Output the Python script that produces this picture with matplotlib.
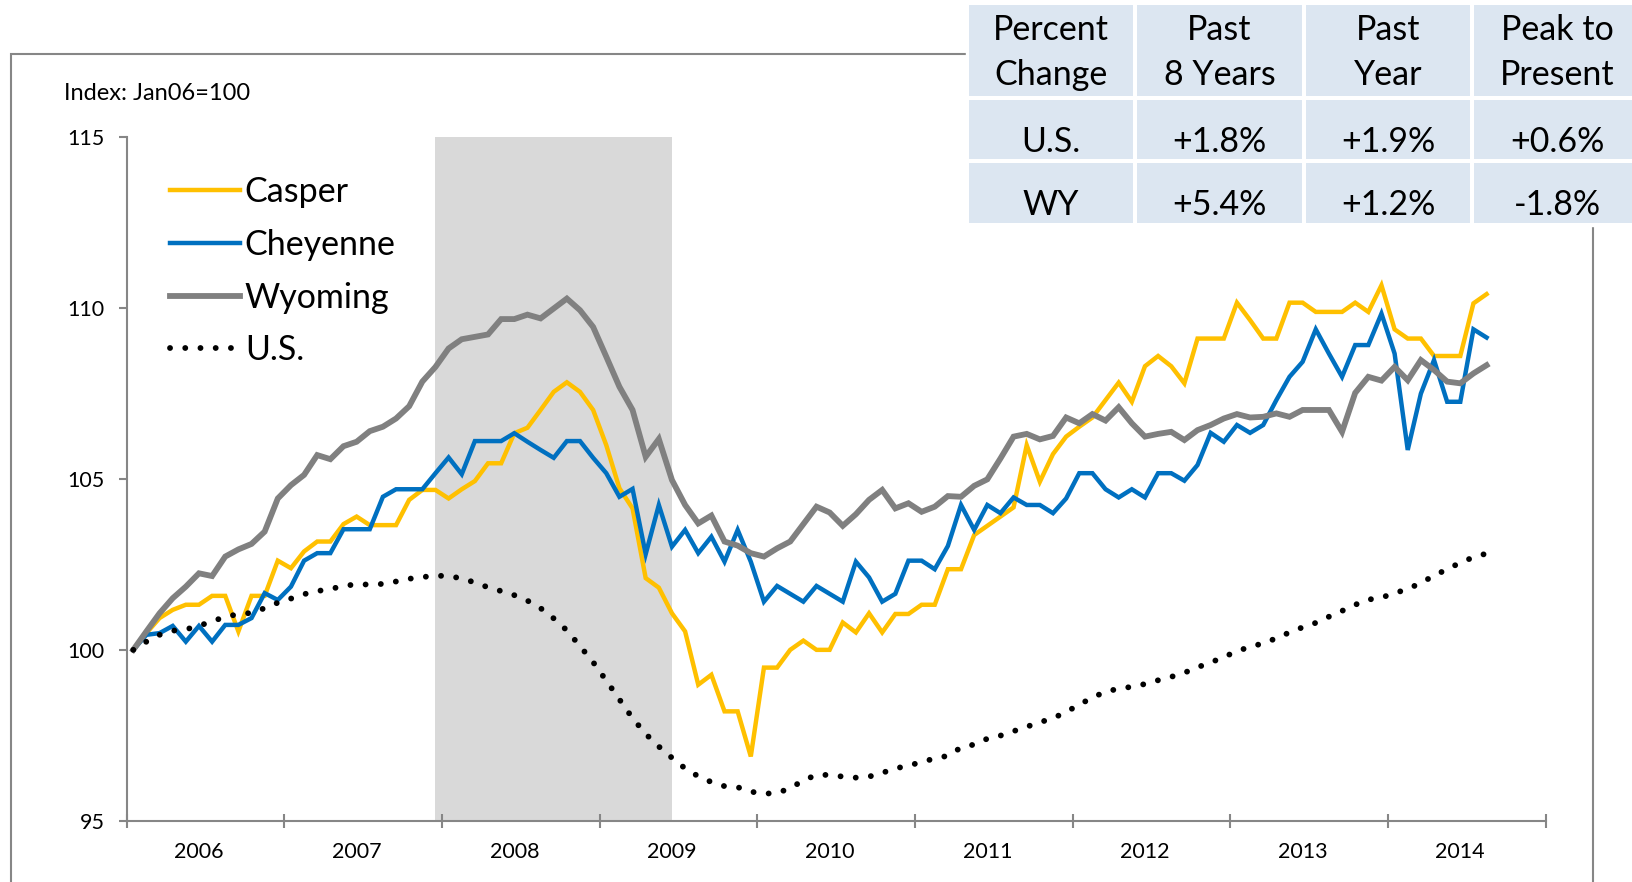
import numpy as np
import matplotlib
matplotlib.use("Agg")
import matplotlib.pyplot as plt
from matplotlib.patches import Rectangle

plt.rcParams['font.family'] = ['Lato', 'DejaVu Sans']

# monthly index values, Jan 2006 .. Aug 2014 (Jan06 = 100)
casper = [100.00, 100.49, 100.93, 101.17, 101.32, 101.32, 101.58, 101.58, 100.54, 101.58, 101.58, 102.61,
          102.39, 102.88, 103.17, 103.17, 103.68, 103.90, 103.65, 103.65, 103.65, 104.39, 104.68, 104.68,
          104.43, 104.70, 104.94, 105.46, 105.46, 106.34, 106.50, 107.02, 107.55, 107.83, 107.55, 107.02,
          105.99, 104.73, 104.14, 102.10, 101.82, 101.07, 100.54, 98.98, 99.27, 98.20, 98.20, 96.88,
          99.48, 99.48, 100.00, 100.27, 100.00, 100.00, 100.80, 100.51, 101.07, 100.51, 101.05, 101.05,
          101.32, 101.32, 102.36, 102.36, 103.36, 103.63, 103.90, 104.17, 105.99, 104.92, 105.73, 106.24,
          106.53, 106.80, 107.31, 107.82, 107.26, 108.30, 108.60, 108.30, 107.80, 109.11, 109.11, 109.11,
          110.16, 109.65, 109.11, 109.11, 110.16, 110.16, 109.89, 109.89, 109.89, 110.16, 109.89, 110.67,
          109.38, 109.11, 109.11, 108.60, 108.60, 108.60, 110.14, 110.41]

cheyenne = [100.00, 100.44, 100.49, 100.70, 100.24, 100.70, 100.24, 100.73, 100.73, 100.93, 101.66, 101.46,
            101.85, 102.61, 102.83, 102.83, 103.53, 103.53, 103.53, 104.48, 104.70, 104.70, 104.70, 105.17,
            105.63, 105.14, 106.11, 106.11, 106.11, 106.34, 106.09, 105.85, 105.62, 106.11, 106.11, 105.62,
            105.17, 104.48, 104.71, 102.80, 104.24, 103.02, 103.51, 102.83, 103.31, 102.58, 103.51, 102.58,
            101.41, 101.87, 101.64, 101.41, 101.87, 101.64, 101.41, 102.58, 102.12, 101.41, 101.64, 102.61,
            102.61, 102.36, 103.04, 104.24, 103.51, 104.24, 104.00, 104.46, 104.24, 104.24, 104.00, 104.43,
            105.17, 105.17, 104.70, 104.46, 104.70, 104.46, 105.17, 105.17, 104.95, 105.41, 106.35, 106.09,
            106.58, 106.35, 106.58, 107.31, 107.99, 108.43, 109.38, 108.67, 107.99, 108.92, 108.92, 109.84,
            108.67, 105.85, 107.50, 108.48, 107.26, 107.26, 109.38, 109.14]

wyoming = [100.00, 100.54, 101.07, 101.51, 101.85, 102.24, 102.16, 102.73, 102.94, 103.10, 103.46, 104.43,
           104.82, 105.12, 105.70, 105.58, 105.96, 106.09, 106.40, 106.53, 106.77, 107.13, 107.85, 108.28,
           108.82, 109.09, 109.16, 109.23, 109.68, 109.68, 109.81, 109.70, 109.99, 110.28, 109.94, 109.45,
           108.58, 107.70, 107.02, 105.65, 106.17, 104.97, 104.24, 103.70, 103.93, 103.17, 103.05, 102.83,
           102.73, 102.97, 103.17, 103.68, 104.19, 104.02, 103.63, 103.97, 104.39, 104.68, 104.14, 104.29,
           104.04, 104.19, 104.50, 104.48, 104.80, 104.99, 105.60, 106.24, 106.32, 106.16, 106.26, 106.80,
           106.63, 106.90, 106.71, 107.10, 106.63, 106.24, 106.32, 106.38, 106.14, 106.43, 106.58, 106.77,
           106.90, 106.80, 106.82, 106.92, 106.82, 107.02, 107.02, 107.02, 106.38, 107.52, 107.99, 107.88,
           108.28, 107.89, 108.48, 108.19, 107.85, 107.80, 108.09, 108.33]

us = [100.00, 100.24, 100.44, 100.56, 100.60, 100.70, 100.84, 100.96, 101.05, 101.08, 101.22, 101.38,
      101.50, 101.63, 101.72, 101.78, 101.87, 101.92, 101.91, 101.93, 102.00, 102.08, 102.13, 102.17,
      102.16, 102.09, 101.97, 101.83, 101.72, 101.60, 101.44, 101.22, 100.92, 100.57, 100.11, 99.64,
      99.10, 98.55, 98.00, 97.54, 97.17, 96.84, 96.53, 96.30, 96.13, 96.01, 95.98, 95.85,
      95.79, 95.81, 95.95, 96.18, 96.34, 96.34, 96.29, 96.26, 96.29, 96.40, 96.53, 96.61,
      96.72, 96.82, 96.90, 97.14, 97.23, 97.40, 97.49, 97.62, 97.75, 97.88, 98.00, 98.18,
      98.40, 98.60, 98.78, 98.86, 98.92, 99.00, 99.11, 99.21, 99.33, 99.49, 99.63, 99.79,
      99.96, 100.09, 100.19, 100.34, 100.51, 100.66, 100.79, 100.97, 101.14, 101.32, 101.47, 101.53,
      101.66, 101.78, 101.96, 102.17, 102.36, 102.55, 102.71, 102.82]

years = ['2006', '2007', '2008', '2009', '2010', '2011', '2012', '2013', '2014']
recession = (23, 41)   # Dec 2007 .. Jun 2009 (month index)

table_header = ['Percent\nChange', 'Past\n8 Years', 'Past\nYear', 'Peak to\nPresent']
table_rows = [['U.S.', '+1.8%', '+1.9%', '+0.6%'],
              ['WY', '+5.4%', '+1.2%', '-1.8%']]

W, H = 1633, 882
fig = plt.figure(figsize=(W / 100, H / 100), dpi=100)

def fx(x):
    return x / W

def fy(y):
    return 1 - y / H

grey = '#868686'

# outer chart border
fig.patches.append(Rectangle((fx(10.5), fy(900)), fx(1593.5) - fx(10.5), fy(54) - fy(900),
                             transform=fig.transFigure, fill=False, edgecolor=grey, lw=1.5, zorder=0))

ax = fig.add_axes([fx(126.7), fy(820.7), fx(1545.7) - fx(126.7), fy(137.3) - fy(820.7)])
x = np.arange(len(casper))

ax.axvspan(recession[0], recession[1], color='#D9D9D9', lw=0, zorder=0)
ax.plot(x, casper, color='#FFC000', lw=3.2, label='Casper', solid_joinstyle='miter')
ax.plot(x, cheyenne, color='#0070C0', lw=3.2, label='Cheyenne', solid_joinstyle='miter')
ax.plot(x, wyoming, color='#808080', lw=4.2, label='Wyoming', solid_joinstyle='miter')
ax.plot(x, us, color='black', lw=4.2, linestyle=(0, (0.01, 2.6)), dash_capstyle='round', label='U.S.')

ax.set_xlim(-0.5, 107.5)
ax.set_ylim(95, 115)
ax.set_yticks([95, 100, 105, 110, 115])
ax.set_xticks(np.arange(-0.5, 108, 12))
ax.set_xticklabels([])
ax.set_xticks(np.arange(5.0, 108, 12), minor=True)
ax.set_xticklabels(years, minor=True)
ax.tick_params(axis='x', which='major', direction='inout', length=10, width=1.5, color=grey)
ax.tick_params(axis='x', which='minor', length=0, pad=15, labelsize=15.5)
ax.tick_params(axis='y', direction='out', length=6, width=1.5, color=grey, pad=10, labelsize=15.5)
for s in ['top', 'right']:
    ax.spines[s].set_visible(False)
for s in ['left', 'bottom']:
    ax.spines[s].set_color(grey)
    ax.spines[s].set_linewidth(1.5)

fig.text(fx(64), fy(93.7), 'Index: Jan06=100', fontsize=17, va='center', ha='left')

ax.legend(loc='upper left', bbox_to_anchor=(fx(170), fy(176)), bbox_transform=fig.transFigure,
          frameon=False, fontsize=24.5, handlelength=2.05, handletextpad=0.15, labelspacing=0.61,
          borderpad=0, borderaxespad=0)

# table in the top right corner
col_edges = [969, 1133, 1137, 1302, 1306, 1470, 1474, 1640]
row_edges = [5, 96, 100, 159, 163, 223]
text_shift = [2, 12, 12]
fig.patches.append(Rectangle((fx(966), fy(226)), fx(1640) - fx(966), fy(2) - fy(226),
                             transform=fig.transFigure, color='white', zorder=2))
cells = [table_header] + table_rows
for r in range(3):
    y0, y1 = row_edges[2 * r], row_edges[2 * r + 1]
    for c in range(4):
        x0, x1 = col_edges[2 * c], col_edges[2 * c + 1]
        fig.patches.append(Rectangle((fx(x0), fy(y1)), fx(x1) - fx(x0), fy(y0) - fy(y1),
                                     transform=fig.transFigure, color='#DCE6F1', lw=0, zorder=3))
        xc = (x0 + x1) / 2 if c < 3 else 1557
        fig.text(fx(xc), fy((y0 + y1) / 2 + text_shift[r]), cells[r][c], fontsize=24.5,
                 ha='center', va='center', linespacing=1.5, zorder=4)

fig.savefig('out.png', dpi=100)
